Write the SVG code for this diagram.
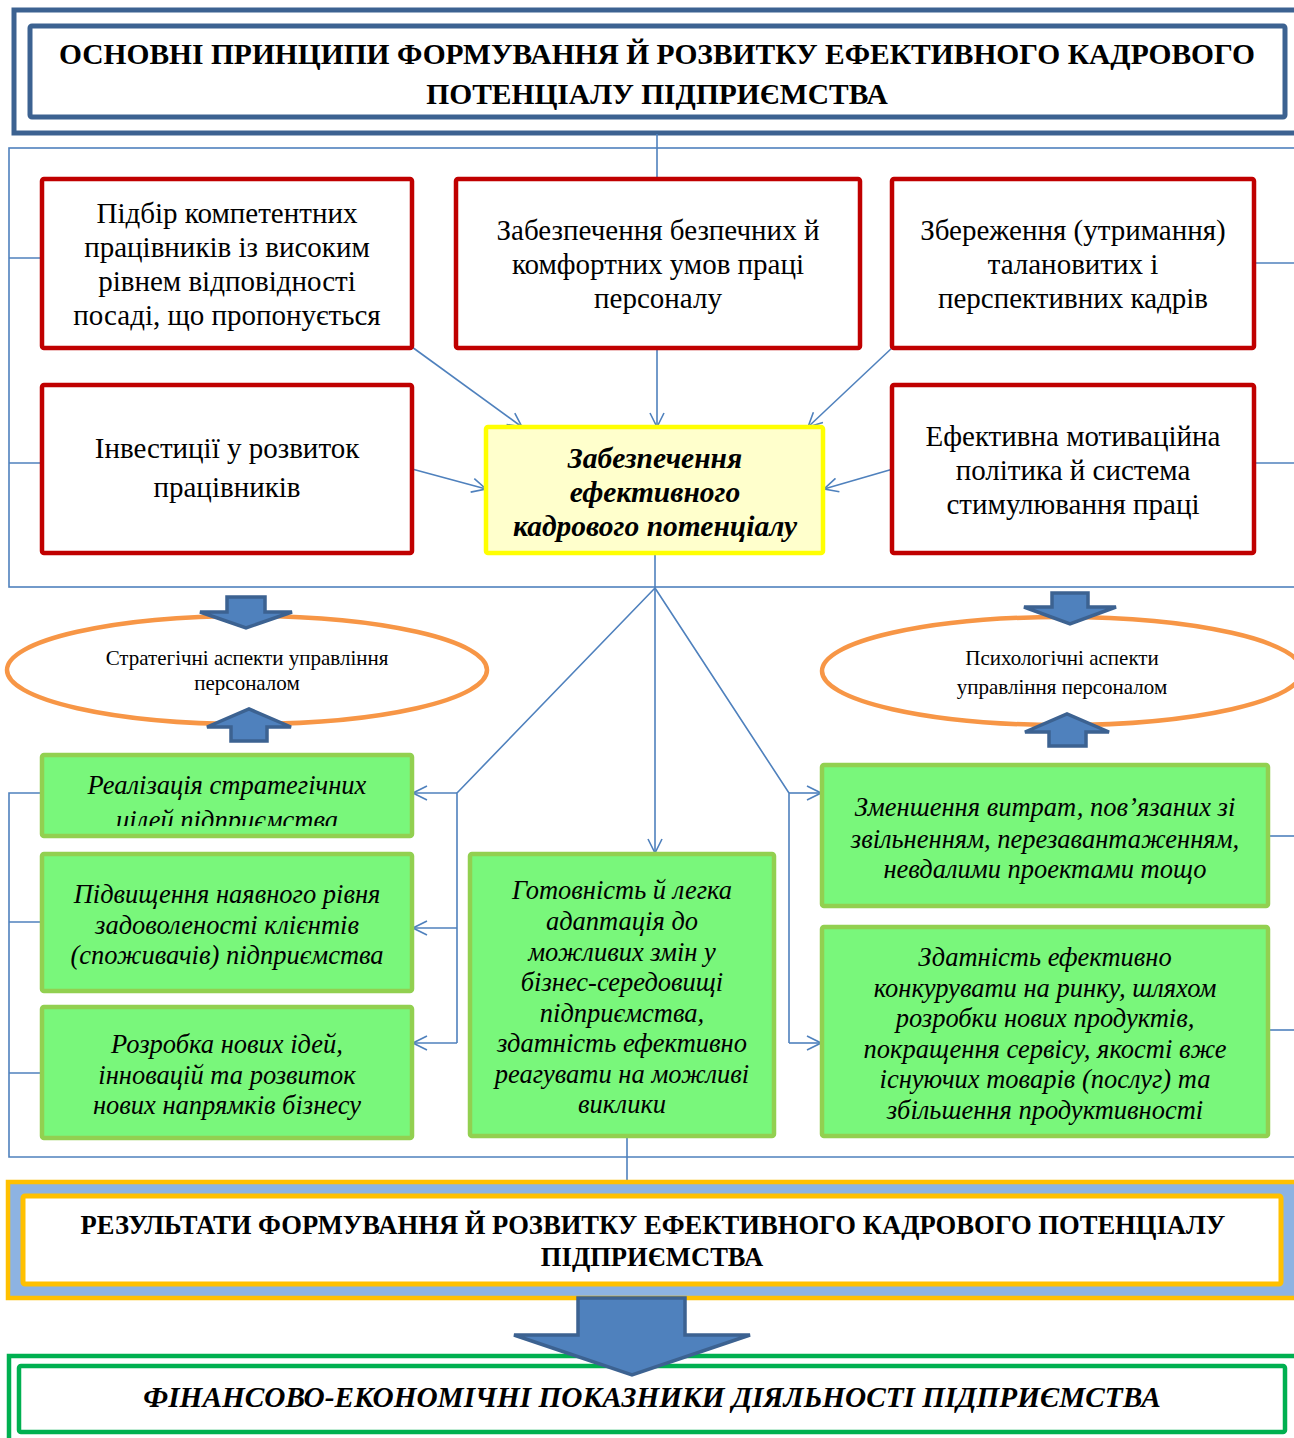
<svg xmlns="http://www.w3.org/2000/svg" width="1294" height="1438" viewBox="0 0 1294 1438">
<style>
.t{font-family:"Liberation Serif","Times New Roman",serif;fill:#000;text-anchor:middle}
.hd{font-size:29.5px;font-weight:bold}
.rd{font-size:29px}
.yl{font-size:29.5px;font-weight:bold;font-style:italic}
.el{font-size:21px}
.gr{font-size:26.5px;font-style:italic}
.res{font-size:26.6px;font-weight:bold}
.fin{font-size:29.3px;font-weight:bold;font-style:italic}
.red{fill:#fff;stroke:#c00000;stroke-width:4.5}
.grn{fill:#79f77b;stroke:#92d050;stroke-width:4.5}
.ln{fill:none;stroke:#4f81bd;stroke-width:1.6}
.blk{fill:#4f81bd;stroke:#3c6291;stroke-width:3.5;stroke-linejoin:miter}
.ell{fill:#fff;stroke:#f79646;stroke-width:4.5}
</style>
<defs>
<marker id="ah" viewBox="0 0 16 16" refX="15" refY="8" markerWidth="16" markerHeight="16" markerUnits="userSpaceOnUse" orient="auto">
<path d="M1,1 L15,8 L1,15" fill="none" stroke="#4f81bd" stroke-width="1.6"/>
</marker>
<clipPath id="cl1"><rect x="44" y="757" width="366" height="69"/></clipPath>
</defs>
<rect width="1294" height="1438" fill="#fff"/>

<g id="title">
<rect x="14" y="10" width="1300" height="123" fill="#fff" stroke="#3c6291" stroke-width="5"/>
<rect x="30" y="26" width="1255" height="91" fill="#fff" stroke="#3c6291" stroke-width="5" rx="2"/>
<text class="t hd" x="657" y="64">ОСНОВНІ ПРИНЦИПИ ФОРМУВАННЯ Й РОЗВИТКУ ЕФЕКТИВНОГО КАДРОВОГО</text>
<text class="t hd" x="657" y="104">ПОТЕНЦІАЛУ ПІДПРИЄМСТВА</text>
</g>

<g id="connectors">
<rect class="ln" x="9" y="148" width="1300" height="439"/>
<line class="ln" x1="657" y1="134" x2="657" y2="179"/>
<line class="ln" x1="9" y1="258" x2="42" y2="258"/>
<line class="ln" x1="9" y1="463" x2="42" y2="463"/>
<line class="ln" x1="1254" y1="263" x2="1294" y2="263"/>
<line class="ln" x1="1254" y1="463" x2="1294" y2="463"/>
<line class="ln" x1="412" y1="347" x2="522" y2="427" marker-end="url(#ah)"/>
<line class="ln" x1="657" y1="348" x2="657" y2="427" marker-end="url(#ah)"/>
<line class="ln" x1="893" y1="347" x2="808" y2="427" marker-end="url(#ah)"/>
<line class="ln" x1="412" y1="469" x2="486" y2="489" marker-end="url(#ah)"/>
<line class="ln" x1="893" y1="469" x2="824" y2="489" marker-end="url(#ah)"/>
<line class="ln" x1="655" y1="553" x2="655" y2="590"/>
<line class="ln" x1="655" y1="588" x2="655" y2="853" marker-end="url(#ah)"/>
<polyline class="ln" points="655,588 457,793 457,1043"/>
<polyline class="ln" points="655,588 789,793 789,1043"/>
<line class="ln" x1="457" y1="793" x2="413" y2="793" marker-end="url(#ah)"/>
<line class="ln" x1="457" y1="928" x2="413" y2="928" marker-end="url(#ah)"/>
<line class="ln" x1="457" y1="1043" x2="413" y2="1043" marker-end="url(#ah)"/>
<line class="ln" x1="789" y1="793" x2="821" y2="793" marker-end="url(#ah)"/>
<line class="ln" x1="789" y1="1043" x2="821" y2="1043" marker-end="url(#ah)"/>
<polyline class="ln" points="42,793 9,793 9,1157 1294,1157"/>
<line class="ln" x1="9" y1="922" x2="42" y2="922"/>
<line class="ln" x1="9" y1="1073" x2="42" y2="1073"/>
<line class="ln" x1="1268" y1="836" x2="1294" y2="836"/>
<line class="ln" x1="1268" y1="1030" x2="1294" y2="1030"/>
<line class="ln" x1="627" y1="1137" x2="627" y2="1182"/>
</g>

<g id="box1">
<rect class="red" x="42" y="179" width="370" height="169" rx="2"/>
<text class="t rd" x="227" y="223">Підбір компетентних</text>
<text class="t rd" x="227" y="257">працівників із високим</text>
<text class="t rd" x="227" y="291">рівнем відповідності</text>
<text class="t rd" x="227" y="325">посаді, що пропонується</text>
</g>
<g id="box2">
<rect class="red" x="456" y="179" width="404" height="169" rx="2"/>
<text class="t rd" x="658" y="240">Забезпечення безпечних й</text>
<text class="t rd" x="658" y="274">комфортних умов праці</text>
<text class="t rd" x="658" y="308">персоналу</text>
</g>
<g id="box3">
<rect class="red" x="892" y="179" width="362" height="169" rx="2"/>
<text class="t rd" x="1073" y="240">Збереження (утримання)</text>
<text class="t rd" x="1073" y="274">талановитих і</text>
<text class="t rd" x="1073" y="308">перспективних кадрів</text>
</g>
<g id="box4">
<rect class="red" x="42" y="385" width="370" height="168" rx="2"/>
<text class="t rd" x="227" y="458">Інвестиції у розвиток</text>
<text class="t rd" x="227" y="497">працівників</text>
</g>
<g id="box5">
<rect class="red" x="892" y="385" width="362" height="168" rx="2"/>
<text class="t rd" x="1073" y="446">Ефективна мотиваційна</text>
<text class="t rd" x="1073" y="480">політика й система</text>
<text class="t rd" x="1073" y="514">стимулювання праці</text>
</g>
<g id="center">
<rect x="486" y="427" width="337" height="126" fill="#ffffcc" stroke="#ffff00" stroke-width="4.5" rx="2"/>
<text class="t yl" x="655" y="468">Забезпечення</text>
<text class="t yl" x="655" y="502">ефективного</text>
<text class="t yl" x="655" y="536">кадрового потенціалу</text>
</g>

<g id="ellipse-left">
<ellipse class="ell" cx="247" cy="670" rx="240" ry="54"/>
<text class="t el" x="247" y="665">Стратегічні аспекти управління</text>
<text class="t el" x="247" y="690">персоналом</text>
</g>
<g id="ellipse-right">
<ellipse class="ell" cx="1062" cy="671" rx="240" ry="54"/>
<text class="t el" x="1062" y="665">Психологічні аспекти</text>
<text class="t el" x="1062" y="694">управління персоналом</text>
</g>
<g id="block-arrows-small">
<polygon class="blk" points="227,597 265,597 265,612 292,612 246,628 200,612 227,612"/>
<polygon class="blk" points="231,741 267,741 267,727 291,727 249,709 207,727 231,727"/>
<polygon class="blk" points="1052,593 1088,593 1088,607 1116,607 1070,624 1024,607 1052,607"/>
<polygon class="blk" points="1049,746 1086,746 1086,732 1109,732 1067,714 1025,732 1049,732"/>
</g>

<g id="g1">
<rect class="grn" x="42" y="755" width="370" height="81" rx="2"/>
<text class="t gr" x="227" y="794">Реалізація стратегічних</text>
<text class="t gr" x="227" y="829" clip-path="url(#cl1)">цілей підприємства</text>
</g>
<g id="g2">
<rect class="grn" x="42" y="854" width="370" height="137" rx="2"/>
<text class="t gr" x="227" y="903">Підвищення наявного рівня</text>
<text class="t gr" x="227" y="934">задоволеності клієнтів</text>
<text class="t gr" x="227" y="964">(споживачів) підприємства</text>
</g>
<g id="g3">
<rect class="grn" x="42" y="1007" width="370" height="131" rx="2"/>
<text class="t gr" x="227" y="1053">Розробка нових ідей,</text>
<text class="t gr" x="227" y="1084">інновацій та розвиток</text>
<text class="t gr" x="227" y="1114">нових напрямків бізнесу</text>
</g>
<g id="g4">
<rect class="grn" x="470" y="854" width="304" height="282" rx="2"/>
<text class="t gr" x="622" y="899">Готовність й легка</text>
<text class="t gr" x="622" y="930">адаптація до</text>
<text class="t gr" x="622" y="961">можливих змін у</text>
<text class="t gr" x="622" y="991">бізнес-середовищі</text>
<text class="t gr" x="622" y="1022">підприємства,</text>
<text class="t gr" x="622" y="1052">здатність ефективно</text>
<text class="t gr" x="622" y="1083">реагувати на можливі</text>
<text class="t gr" x="622" y="1113">виклики</text>
</g>
<g id="g5">
<rect class="grn" x="822" y="765" width="446" height="141" rx="2"/>
<text class="t gr" x="1045" y="816">Зменшення витрат, пов’язаних зі</text>
<text class="t gr" x="1045" y="848">звільненням, перезавантаженням,</text>
<text class="t gr" x="1045" y="878">невдалими проектами тощо</text>
</g>
<g id="g6">
<rect class="grn" x="822" y="927" width="446" height="209" rx="2"/>
<text class="t gr" x="1045" y="966">Здатність ефективно</text>
<text class="t gr" x="1045" y="997">конкурувати на ринку, шляхом</text>
<text class="t gr" x="1045" y="1027">розробки нових продуктів,</text>
<text class="t gr" x="1045" y="1058">покращення сервісу, якості вже</text>
<text class="t gr" x="1045" y="1088">існуючих товарів (послуг) та</text>
<text class="t gr" x="1045" y="1119">збільшення продуктивності</text>
</g>

<g id="results">
<rect x="8" y="1182" width="1300" height="116" fill="#8db3e2" stroke="#ffc000" stroke-width="4.5"/>
<rect x="23" y="1196" width="1258" height="88" fill="#fff" stroke="#ffc000" stroke-width="5" rx="2"/>
<text class="t res" x="653" y="1234">РЕЗУЛЬТАТИ ФОРМУВАННЯ Й РОЗВИТКУ ЕФЕКТИВНОГО КАДРОВОГО ПОТЕНЦІАЛУ</text>
<text class="t res" x="652" y="1266">ПІДПРИЄМСТВА</text>
</g>

<g id="financial">
<rect x="9" y="1356" width="1300" height="90" fill="#fff" stroke="#00b050" stroke-width="4.5"/>
<rect x="19" y="1366" width="1266" height="66" fill="#fff" stroke="#00b050" stroke-width="4.5" rx="2"/>
<text class="t fin" x="652" y="1407">ФІНАНСОВО-ЕКОНОМІЧНІ ПОКАЗНИКИ ДІЯЛЬНОСТІ ПІДПРИЄМСТВА</text>
</g>

<g id="big-arrow">
<polygon class="blk" points="578,1298 685,1298 685,1335 750,1335 632,1375 514,1335 578,1335"/>
</g>
</svg>
